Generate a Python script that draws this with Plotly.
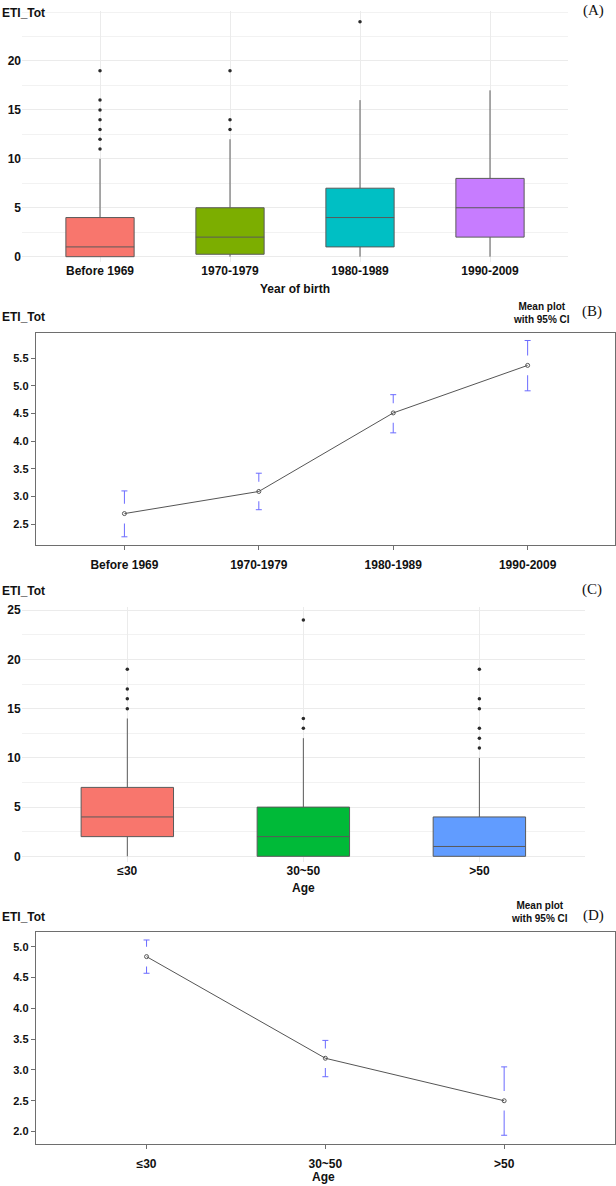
import plotly.graph_objects as go

W, H = 616, 1186

# ---------------- data ----------------
birth_groups = ["Before 1969", "1970-1979", "1980-1989", "1990-2009"]
birth_q1 = [0, 0.25, 1, 2]
birth_median = [1, 2, 4, 5]
birth_q3 = [4, 5, 7, 8]
birth_lowerfence = [0, 0, 0, 0]
birth_upperfence = [10, 12, 16, 17]
birth_outliers = [[11, 12, 13, 14, 15, 16, 19], [13, 14, 19], [24], []]

birth_mean = [2.69, 3.09, 4.51, 5.37]
birth_ci_low = [2.27, 2.76, 4.15, 4.91]
birth_ci_high = [3.10, 3.42, 4.84, 5.82]

age_groups = ["≤30", "30~50", ">50"]
age_q1 = [2, 0, 0]
age_median = [4, 2, 1]
age_q3 = [7, 5, 4]
age_lowerfence = [0, 0, 0]
age_upperfence = [14, 12, 10]
age_outliers = [[15, 16, 17, 19], [13, 14, 24], [11, 12, 13, 15, 16, 19]]

age_mean = [4.84, 3.19, 2.50]
age_ci_low = [4.57, 2.89, 1.94]
age_ci_high = [5.11, 3.48, 3.05]

# ---------------- styles ----------------
birth_colors = ["#F8766D", "#7CAE00", "#00BFC4", "#C77CFF"]
age_colors = ["#F8766D", "#00BA38", "#619CFF"]
BOX_LINE = "#5a5a5a"
CI_COLOR = "#6b6bff"
FONT = "Arial, Liberation Sans, Helvetica, sans-serif"
SERIF = "Liberation Serif, Times New Roman, serif"


def px_x(p):
    return p / W


def px_y(p):
    return 1 - p / H


fig = go.Figure()


def add_box_panel(groups, q1, med, q3, lo, hi, outl, colors, xa, ya):
    for i, g in enumerate(groups):
        fig.add_trace(go.Box(
            x=[g], q1=[q1[i]], median=[med[i]], q3=[q3[i]],
            lowerfence=[lo[i]], upperfence=[hi[i]],
            fillcolor=colors[i], line=dict(color=BOX_LINE, width=1),
            whiskerwidth=0, boxpoints=False, xaxis=xa, yaxis=ya,
            hoverinfo="skip"))
    ox, oy = [], []
    for i, g in enumerate(groups):
        for v in outl[i]:
            ox.append(g)
            oy.append(v)
    fig.add_trace(go.Scatter(x=ox, y=oy, mode="markers",
                             marker=dict(color="#2b2b2b", size=3.5),
                             xaxis=xa, yaxis=ya, hoverinfo="skip"))


def add_mean_panel(groups, mean, lo, hi, xa, ya):
    plus = [h - m for h, m in zip(hi, mean)]
    minus = [m - l for m, l in zip(mean, lo)]
    fig.add_trace(go.Scatter(
        x=groups, y=mean, mode="markers", marker=dict(size=1, opacity=0),
        error_y=dict(type="data", symmetric=False, array=plus,
                     arrayminus=minus, color=CI_COLOR, thickness=1, width=3),
        xaxis=xa, yaxis=ya, hoverinfo="skip"))
    # gap in the CI bar around the mean (as in gplots::plotmeans)
    fig.add_trace(go.Scatter(
        x=groups, y=mean, mode="markers",
        marker=dict(symbol="line-ns", size=14,
                    line=dict(color="white", width=3)),
        xaxis=xa, yaxis=ya, hoverinfo="skip"))
    fig.add_trace(go.Scatter(
        x=groups, y=mean, mode="lines+markers",
        line=dict(color="#555555", width=1),
        marker=dict(symbol="circle-open", size=4, color="#555555",
                    line=dict(width=1)),
        xaxis=xa, yaxis=ya, hoverinfo="skip"))


add_box_panel(birth_groups, birth_q1, birth_median, birth_q3,
              birth_lowerfence, birth_upperfence, birth_outliers,
              birth_colors, "x", "y")
add_mean_panel(birth_groups, birth_mean, birth_ci_low, birth_ci_high,
               "x2", "y2")
add_box_panel(age_groups, age_q1, age_median, age_q3, age_lowerfence,
              age_upperfence, age_outliers, age_colors, "x3", "y3")
add_mean_panel(age_groups, age_mean, age_ci_low, age_ci_high, "x4", "y4")

tick_x_font = dict(family=FONT, size=12, color="#111111", weight="bold")
tick_y_font = dict(family=FONT, size=12, color="#111111", weight="bold")
tick_y_font_small = dict(family=FONT, size=11, color="#111111", weight="bold")

box_x = dict(type="category", showgrid=True, gridcolor="#ebebeb",
             gridwidth=1, zeroline=False, showline=False, ticks="",
             tickfont=tick_x_font)
box_y = dict(showgrid=True, gridcolor="#ebebeb", gridwidth=1,
             zeroline=False, showline=False, ticks="",
             tickfont=tick_y_font,
             minor=dict(tick0=0, dtick=2.5, showgrid=True,
                        gridcolor="#f2f2f2", gridwidth=0.7))
mean_x = dict(type="category", showgrid=False, zeroline=False,
              showline=True, mirror=True, linecolor="#6e6e6e", linewidth=1,
              ticks="outside", ticklen=4, tickcolor="#6e6e6e",
              tickfont=tick_x_font, ticklabelstandoff=5)
mean_y = dict(showgrid=False, zeroline=False, showline=True, mirror=True,
              linecolor="#6e6e6e", linewidth=1, ticks="outside", ticklen=4,
              tickcolor="#6e6e6e", tickfont=tick_y_font_small,
              tickformat=".1f", dtick=0.5, tick0=0)

fig.update_layout(
    width=W, height=H, margin=dict(l=0, r=0, t=0, b=0),
    paper_bgcolor="white", plot_bgcolor="white", showlegend=False,
    boxgap=0.25, boxmode="overlay",
    xaxis=dict(box_x, domain=[px_x(22), px_x(568)], anchor="y",
               categoryarray=birth_groups, range=[-0.6, 3.6]),
    yaxis=dict(box_y, domain=[px_y(259), px_y(7)], anchor="x",
               range=[-0.51, 25.11], tickvals=[0, 5, 10, 15, 20]),
    xaxis2=dict(mean_x, domain=[px_x(35.7), px_x(615)], anchor="y2",
                categoryarray=birth_groups, range=[-0.66, 3.65]),
    yaxis2=dict(mean_y, domain=[px_y(543.3), px_y(330.7)], anchor="x2",
                range=[2.13, 5.955]),
    xaxis3=dict(box_x, domain=[px_x(21.7), px_x(585)], anchor="y3",
                categoryarray=age_groups, range=[-0.6, 2.6]),
    yaxis3=dict(box_y, domain=[px_y(862.5), px_y(606)], anchor="x3",
                range=[-0.59, 25.33], tickvals=[0, 5, 10, 15, 20, 25]),
    xaxis4=dict(mean_x, domain=[px_x(35.7), px_x(615)], anchor="y4",
                categoryarray=age_groups, range=[-0.62, 2.62]),
    yaxis4=dict(mean_y, domain=[px_y(1145.3), px_y(932.7)], anchor="x4",
                range=[1.806, 5.24]),
)

bold = dict(family=FONT, size=12, color="#111111", weight="bold")
small_bold = dict(family=FONT, size=10, color="#111111", weight="bold")
serif = dict(family=SERIF, size=15, color="#111111")


def ann(text, xp, yp, font, xanchor="center"):
    fig.add_annotation(text=text, x=px_x(xp), y=px_y(yp), xref="paper",
                       yref="paper", showarrow=False, font=font,
                       xanchor=xanchor, yanchor="middle", align="center")


# panel A
ann("ETI_Tot", 0, 9, bold, "left")
ann("(A)", 593, 7, serif)
ann("Year of birth", 295, 286, bold)
# panel B
ann("ETI_Tot", 0, 315, bold, "left")
ann("Mean plot<br>with 95% CI", 541.7, 310.5, small_bold)
ann("(B)", 591.7, 309, serif)
# panel C
ann("ETI_Tot", 0, 590, bold, "left")
ann("(C)", 592, 588, serif)
ann("Age", 303, 888, bold)
# panel D
ann("ETI_Tot", 0, 918, bold, "left")
ann("Mean plot<br>with 95% CI", 539.3, 912.5, small_bold)
ann("(D)", 593, 916, serif)
ann("Age", 323, 1179, bold)

fig.write_html(
    "out.html",
    config={"displayModeBar": False},
    post_script="document.body.style.margin='0';"
                "document.body.style.padding='0';"
                "document.body.style.overflow='hidden';")
